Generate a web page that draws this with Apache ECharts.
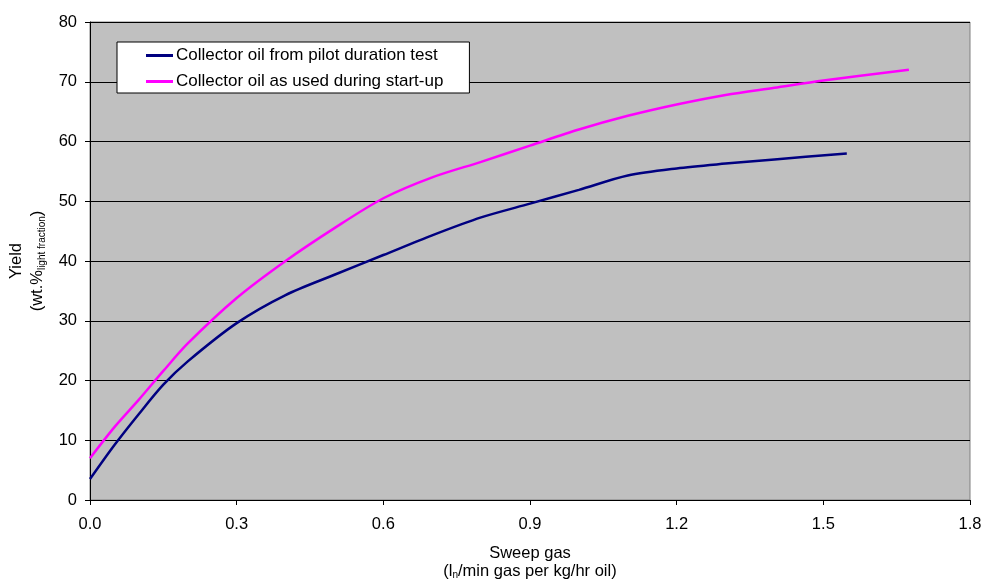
<!DOCTYPE html>
<html>
<head>
<meta charset="utf-8">
<script src="https://cdn.jsdelivr.net/npm/echarts@6/dist/echarts.min.js"></script>
<style>html,body{margin:0;padding:0;background:#fff;}#c{width:986px;height:583px;}</style>
</head>
<body>
<div id="c"></div>
<script>
const seriesNames = ['Collector oil from pilot duration test', 'Collector oil as used during start-up'];
const pilotX = [0, 0.05, 0.1, 0.15, 0.2, 0.3, 0.4, 0.5, 0.6, 0.7, 0.8, 0.9, 1.0, 1.1, 1.2, 1.3, 1.4, 1.548];
const pilotY = [3.5, 9.2, 14.4, 19.3, 23.2, 29.6, 34.3, 37.7, 41, 44.3, 47.3, 49.6, 51.9, 54.3, 55.5, 56.3, 57, 58];
const startX = [0, 0.05, 0.1, 0.15, 0.2, 0.3, 0.4, 0.5, 0.6, 0.7, 0.8, 0.9, 1.0, 1.1, 1.2, 1.3, 1.4, 1.5, 1.675];
const startY = [7, 12.2, 16.8, 21.6, 26.2, 33.8, 40, 45.5, 50.5, 54, 56.6, 59.3, 62, 64.3, 66.2, 67.8, 69, 70.2, 72];
const xTicks = [0, 0.3, 0.6, 0.9, 1.2, 1.5, 1.8];
const yTicks = [0, 10, 20, 30, 40, 50, 60, 70, 80];

const font = 'Liberation Sans, Arial, sans-serif';
const fs = 16.5;
const chart = echarts.init(document.getElementById('c'));
chart.setOption({
  animation: false,
  backgroundColor: '#ffffff',
  grid: {left: 90, right: 16, top: 22, bottom: 83, containLabel: false, outerBoundsMode: 'none',
    show: true, backgroundColor: '#C0C0C0', borderColor: '#808080', borderWidth: 1},
  legend: {
    left: 117, top: 42, orient: 'vertical',
    backgroundColor: '#ffffff', borderColor: '#000', borderWidth: 1,
    padding: [5, 26, 3, 29], itemGap: 9, itemWidth: 27, itemHeight: 3, icon: 'rect',
    textStyle: {fontFamily: font, fontSize: 17, color: '#000', padding: [0, 0, 0, -2]},
    data: seriesNames
  },
  xAxis: {
    type: 'value', min: xTicks[0], max: xTicks[xTicks.length - 1], interval: 0.3,
    axisLine: {lineStyle: {color: '#000', width: 1}},
    axisTick: {show: true, length: 5, lineStyle: {color: '#000'}},
    splitLine: {show: false},
    axisLabel: {margin: 16, fontFamily: font, fontSize: fs, color: '#000', formatter: v => v.toFixed(1)},
    name: 'Sweep gas\n({b|l}{s|n}{b|/min gas per kg/hr oil})',
    nameLocation: 'middle', nameGap: 44,
    nameTextStyle: {fontFamily: font, fontSize: fs, color: '#000', lineHeight: 18, align: 'center',
      rich: {b: {fontFamily: font, fontSize: fs, color: '#000'}, s: {fontFamily: font, fontSize: 10, color: '#000', verticalAlign: 'bottom', padding: [7, 0, 0, 0]}}}
  },
  yAxis: {
    type: 'value', min: yTicks[0], max: yTicks[yTicks.length - 1], interval: 10,
    axisLine: {show: true, lineStyle: {color: '#000', width: 1}},
    axisTick: {show: true, length: 5, lineStyle: {color: '#000'}},
    splitLine: {show: true, lineStyle: {color: '#000', width: 1}},
    axisLabel: {margin: 13, fontFamily: font, fontSize: fs, color: '#000'},
    name: 'Yield\n({b|wt.%}{s|light fraction}{b|)}',
    nameLocation: 'middle', nameGap: 40, nameRotate: 90,
    nameTextStyle: {fontFamily: font, fontSize: fs, color: '#000', lineHeight: 21, align: 'center',
      rich: {b: {fontFamily: font, fontSize: fs, color: '#000'}, s: {fontFamily: font, fontSize: 10, color: '#000', verticalAlign: 'bottom', padding: [7, 0, 0, 0]}}}
  },
  series: [
    {name: seriesNames[0], type: 'line', smooth: 0.3, showSymbol: false, symbol: 'none',
     lineStyle: {color: '#000080', width: 2.5}, itemStyle: {color: '#000080'},
     data: pilotX.map((x, i) => [x, pilotY[i]])},
    {name: seriesNames[1], type: 'line', smooth: 0.3, showSymbol: false, symbol: 'none',
     lineStyle: {color: '#FF00FF', width: 2.5}, itemStyle: {color: '#FF00FF'},
     data: startX.map((x, i) => [x, startY[i]])}
  ]
});
</script>
</body>
</html>
